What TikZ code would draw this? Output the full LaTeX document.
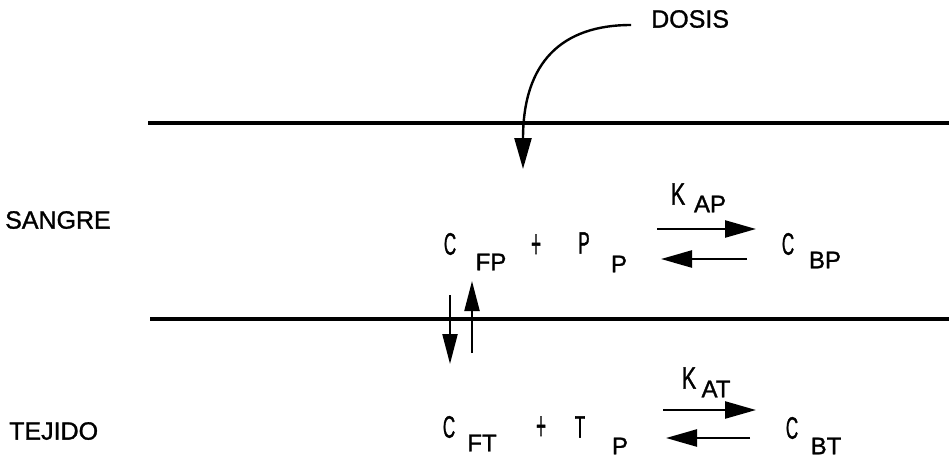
\documentclass[tikz,border=0pt]{standalone}
\usepackage{fontspec}
\setmainfont[FakeBold=1.2]{Liberation Sans}
\usetikzlibrary{arrows.meta}
\tikzset{
  lbl/.style={inner sep=0pt, font=\fontsize{25}{25}\selectfont},
  sub/.style={inner sep=0pt, font=\fontsize{24}{24}\selectfont},
  big/.style={inner sep=0pt, font=\fontsize{31}{31}\selectfont},
  wall/.style={line width=3.4pt},
  rx/.style={line width=2.4pt, -{Triangle[length=31pt,width=17pt]}},
  vx/.style={line width=2.2pt, -{Triangle[length=30pt,width=15pt]}},
}
\newcommand{\narrow}[1]{\scalebox{0.55}[1]{#1}}
\begin{document}
\begin{tikzpicture}[x=1pt,y=-1pt]
\useasboundingbox (0,0) rectangle (949,458);
% membranes
\coordinate (t1) at (148,123); \coordinate (t2) at (949,123);
\coordinate (m1) at (150,319); \coordinate (m2) at (949,319);
\draw[wall] (t1) -- (t2);
\draw[wall] (m1) -- (m2);
% labels
\node[lbl, anchor=west] (sangre) at (5,220) {SANGRE};
\node[lbl, anchor=west] (tejido) at (9,431) {TEJIDO};
\node[lbl, anchor=west] (dosis) at (651,19) {DOSIS};
% dose arrow
\coordinate (d0) at (631,25);
\coordinate (d1) at (523,169);
\draw[line width=2.4pt, -{Triangle[length=31pt,width=17pt]}] (d0) .. controls (562,25) and (523,62) .. (d1);
% blood row
\node[big] (cfp) at (450,244) {\narrow{C}};
\node[sub] (fp) at (491,262) {FP};
\node[big] (plus1) at (536,246) {\scalebox{0.55}[1.3]{+}};
\node[big] (pp) at (584,243) {\narrow{P}};
\node[sub] (psub1) at (619,264) {P};
\node[big] (kap) at (678,194) {\scalebox{0.7}[1]{K}};
\node[sub] (ap) at (710,204) {AP};
\node[big] (cbp) at (788,244) {\narrow{C}};
\node[sub] (bp) at (825,260) {BP};
\coordinate (f1a) at (657,229); \coordinate (f1b) at (756,229);
\coordinate (b1a) at (747,259); \coordinate (b1b) at (661,259);
\draw[rx] (f1a) -- (f1b);
\draw[rx] (b1a) -- (b1b);
% tissue row
\node[big] (cft) at (449,427) {\narrow{C}};
\node[sub] (ft) at (482,443) {FT};
\node[big] (plus2) at (541,428) {\scalebox{0.55}[1.3]{+}};
\node[big] (tp) at (580,427) {\narrow{T}};
\node[sub] (psub2) at (620,446) {P};
\node[big] (kat) at (689,378) {\scalebox{0.7}[1]{K}};
\node[sub] (at) at (716,389) {AT};
\node[big] (cbt) at (792,428) {\narrow{C}};
\node[sub] (bt) at (826,446) {BT};
\coordinate (f2a) at (663,410); \coordinate (f2b) at (756,410);
\coordinate (b2a) at (750,438); \coordinate (b2b) at (666,438);
\draw[rx] (f2a) -- (f2b);
\draw[rx] (b2a) -- (b2b);
% exchange arrows across the membrane
\coordinate (v1a) at (450,295); \coordinate (v1b) at (450,364);
\coordinate (v2a) at (472,353); \coordinate (v2b) at (472,281);
\draw[vx] (v1a) -- (v1b);
\draw[vx] (v2a) -- (v2b);
\end{tikzpicture}
\end{document}
